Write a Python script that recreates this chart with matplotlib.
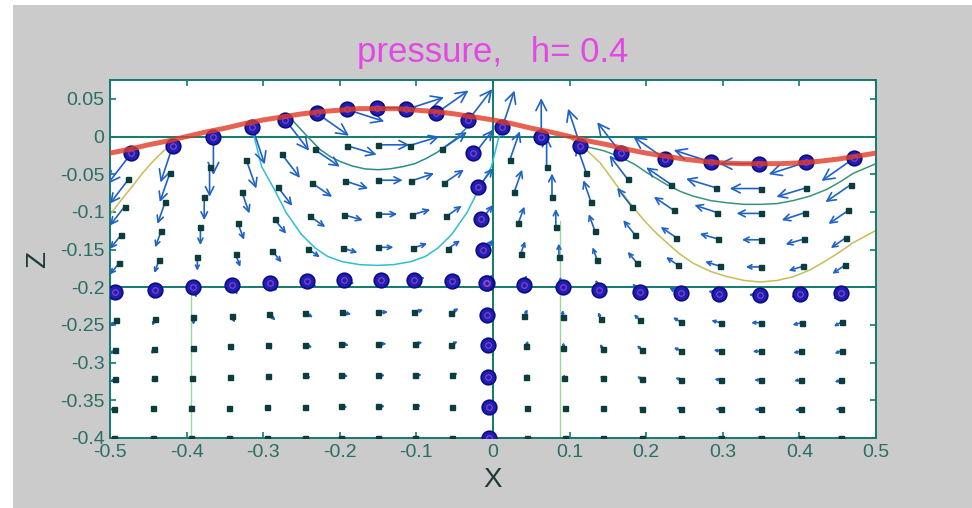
import numpy as np
import matplotlib
matplotlib.use('Agg')
import matplotlib.pyplot as plt
from matplotlib.patches import FancyArrowPatch, Rectangle

# free surface (red line)
surf_line_x = np.arange(-0.5, 0.5001, 0.025)
surf_line_z = [-0.022, -0.017, -0.011, -0.006, 0.0, 0.006, 0.011, 0.017, 0.022, 0.026, 0.030,
               0.033, 0.035, 0.037, 0.037, 0.037, 0.035, 0.033, 0.030, 0.026, 0.022, 0.017,
               0.011, 0.006, 0.0, -0.006, -0.011, -0.017, -0.022, -0.026, -0.030, -0.033,
               -0.035, -0.036, -0.036, -0.036, -0.035, -0.033, -0.030, -0.026, -0.022]

# surface particles (blue circles) and their velocity arrows
surf_x = [-0.472, -0.418, -0.365, -0.314, -0.271, -0.230, -0.191, -0.151, -0.113, -0.074,
          -0.032, 0.012, 0.063, 0.114, 0.167, 0.225, 0.285, 0.347, 0.409, 0.471]
surf_z = [-0.022, -0.012, 0.0, 0.012, 0.022, 0.031, 0.036, 0.038, 0.036, 0.031,
          0.022, 0.012, 0.0, -0.012, -0.022, -0.030, -0.034, -0.036, -0.034, -0.029]
surf_u = [-0.031, -0.016, 0.0, 0.016, 0.031, 0.042, 0.049, 0.052, 0.049, 0.042,
          0.031, 0.016, 0.0, -0.016, -0.031, -0.042, -0.049, -0.052, -0.049, -0.042]
surf_w = [-0.041, -0.049, -0.051, -0.049, -0.041, -0.030, -0.016, 0.0, 0.016, 0.030,
          0.041, 0.049, 0.051, 0.049, 0.041, 0.030, 0.016, 0.0, -0.016, -0.030]

# sub-surface particles (black dots), one row per depth -0.04 ... -0.40
dot_x = [
    [-0.476, -0.422, -0.370, -0.322, -0.276, -0.233, -0.191, -0.150, -0.109, -0.067, -0.024, 0.022, 0.070, 0.122, 0.176, 0.233, 0.291, 0.350, 0.409, 0.467, 0.524],
    [-0.481, -0.428, -0.377, -0.328, -0.281, -0.236, -0.193, -0.150, -0.107, -0.064, -0.019, 0.028, 0.077, 0.128, 0.181, 0.236, 0.293, 0.350, 0.407, 0.464, 0.519],
    [-0.485, -0.433, -0.382, -0.333, -0.285, -0.239, -0.194, -0.150, -0.106, -0.061, -0.015, 0.033, 0.082, 0.133, 0.185, 0.239, 0.294, 0.350, 0.406, 0.461, 0.515],
    [-0.488, -0.436, -0.386, -0.336, -0.288, -0.242, -0.196, -0.150, -0.105, -0.059, -0.012, 0.036, 0.086, 0.136, 0.188, 0.242, 0.296, 0.350, 0.405, 0.459, 0.512],
    [-0.491, -0.439, -0.388, -0.339, -0.291, -0.243, -0.196, -0.150, -0.104, -0.057, -0.009, 0.039, 0.088, 0.139, 0.191, 0.243, 0.296, 0.350, 0.404, 0.457, 0.509],
    [-0.492, -0.441, -0.391, -0.341, -0.292, -0.245, -0.197, -0.150, -0.103, -0.055, -0.008, 0.041, 0.091, 0.141, 0.192, 0.245, 0.297, 0.350, 0.403, 0.455, 0.508],
    [-0.494, -0.443, -0.392, -0.343, -0.294, -0.245, -0.198, -0.150, -0.102, -0.055, -0.006, 0.043, 0.092, 0.143, 0.194, 0.245, 0.298, 0.350, 0.402, 0.455, 0.506],
    [-0.494, -0.443, -0.393, -0.343, -0.294, -0.246, -0.198, -0.150, -0.102, -0.054, -0.006, 0.043, 0.093, 0.143, 0.194, 0.246, 0.298, 0.350, 0.402, 0.454, 0.506],
    [-0.495, -0.444, -0.394, -0.344, -0.295, -0.246, -0.198, -0.150, -0.102, -0.054, -0.005, 0.044, 0.094, 0.144, 0.195, 0.246, 0.298, 0.350, 0.402, 0.454, 0.505],
    [-0.495, -0.444, -0.394, -0.344, -0.295, -0.246, -0.198, -0.150, -0.102, -0.054, -0.005, 0.044, 0.094, 0.144, 0.195, 0.246, 0.298, 0.350, 0.402, 0.454, 0.505],
]
dot_z = [
    [-0.057, -0.049, -0.040, -0.031, -0.023, -0.017, -0.012, -0.011, -0.012, -0.017, -0.023, -0.031, -0.040, -0.049, -0.057, -0.064, -0.068, -0.069, -0.068, -0.064, -0.057],
    [-0.093, -0.087, -0.080, -0.073, -0.067, -0.062, -0.059, -0.058, -0.059, -0.062, -0.067, -0.073, -0.080, -0.087, -0.093, -0.098, -0.101, -0.102, -0.101, -0.098, -0.093],
    [-0.130, -0.125, -0.120, -0.115, -0.110, -0.106, -0.104, -0.103, -0.104, -0.106, -0.110, -0.115, -0.120, -0.125, -0.130, -0.134, -0.136, -0.137, -0.136, -0.134, -0.130],
    [-0.168, -0.164, -0.160, -0.156, -0.152, -0.149, -0.148, -0.147, -0.148, -0.149, -0.152, -0.156, -0.160, -0.164, -0.168, -0.171, -0.172, -0.173, -0.172, -0.171, -0.168],
    [-0.206, -0.203, -0.200, -0.197, -0.194, -0.192, -0.191, -0.190, -0.191, -0.192, -0.194, -0.197, -0.200, -0.203, -0.206, -0.208, -0.209, -0.210, -0.209, -0.208, -0.206],
    [-0.244, -0.242, -0.240, -0.238, -0.236, -0.234, -0.233, -0.233, -0.233, -0.234, -0.236, -0.238, -0.240, -0.242, -0.244, -0.246, -0.247, -0.247, -0.247, -0.246, -0.244],
    [-0.283, -0.282, -0.280, -0.278, -0.277, -0.276, -0.275, -0.275, -0.275, -0.276, -0.277, -0.278, -0.280, -0.282, -0.283, -0.284, -0.285, -0.285, -0.285, -0.284, -0.283],
    [-0.322, -0.321, -0.320, -0.319, -0.318, -0.317, -0.317, -0.317, -0.317, -0.317, -0.318, -0.319, -0.320, -0.321, -0.322, -0.323, -0.323, -0.323, -0.323, -0.323, -0.322],
    [-0.361, -0.360, -0.360, -0.360, -0.359, -0.359, -0.358, -0.358, -0.358, -0.359, -0.359, -0.360, -0.360, -0.360, -0.361, -0.361, -0.362, -0.362, -0.362, -0.361, -0.361],
    [-0.400] * 21,
]
arr_u = [
    [-0.024, -0.013, 0.0, 0.013, 0.024, 0.033, 0.039, 0.041, 0.039, 0.033, 0.024, 0.013, 0.0, -0.013, -0.024, -0.033, -0.039, -0.041, -0.039, -0.033, -0.024],
    [-0.019, -0.010, 0.0, 0.010, 0.019, 0.026, 0.030, 0.032, 0.030, 0.026, 0.019, 0.010, 0.0, -0.010, -0.019, -0.026, -0.030, -0.032, -0.030, -0.026, -0.019],
    [-0.015, -0.008, 0.0, 0.008, 0.015, 0.020, 0.024, 0.025, 0.024, 0.020, 0.015, 0.008, 0.0, -0.008, -0.015, -0.020, -0.024, -0.025, -0.024, -0.020, -0.015],
    [-0.012, -0.006, 0.0, 0.006, 0.012, 0.016, 0.019, 0.020, 0.019, 0.016, 0.012, 0.006, 0.0, -0.006, -0.012, -0.016, -0.019, -0.020, -0.019, -0.016, -0.012],
    [-0.009, -0.005, 0.0, 0.005, 0.009, 0.013, 0.015, 0.016, 0.015, 0.013, 0.009, 0.005, 0.0, -0.005, -0.009, -0.013, -0.015, -0.016, -0.015, -0.013, -0.009],
    [-0.008, -0.004, 0.0, 0.004, 0.008, 0.010, 0.012, 0.013, 0.012, 0.010, 0.008, 0.004, 0.0, -0.004, -0.008, -0.010, -0.012, -0.013, -0.012, -0.010, -0.008],
    [-0.006, -0.003, 0.0, 0.003, 0.006, 0.009, 0.010, 0.011, 0.010, 0.009, 0.006, 0.003, 0.0, -0.003, -0.006, -0.009, -0.010, -0.011, -0.010, -0.009, -0.006],
    [-0.006, -0.003, 0.0, 0.003, 0.006, 0.008, 0.009, 0.009, 0.009, 0.008, 0.006, 0.003, 0.0, -0.003, -0.006, -0.008, -0.009, -0.009, -0.009, -0.008, -0.006],
    [-0.005, -0.003, 0.0, 0.003, 0.005, 0.007, 0.008, 0.009, 0.008, 0.007, 0.005, 0.003, 0.0, -0.003, -0.005, -0.007, -0.008, -0.009, -0.008, -0.007, -0.005],
    [-0.005, -0.003, 0.0, 0.003, 0.005, 0.007, 0.008, 0.008, 0.008, 0.007, 0.005, 0.003, 0.0, -0.003, -0.005, -0.007, -0.008, -0.008, -0.008, -0.007, -0.005],
]
arr_w = [
    [-0.032, -0.038, -0.040, -0.038, -0.032, -0.023, -0.012, 0.0, 0.012, 0.023, 0.032, 0.038, 0.040, 0.038, 0.032, 0.023, 0.012, 0.0, -0.012, -0.023, -0.032],
    [-0.025, -0.029, -0.031, -0.029, -0.025, -0.018, -0.010, 0.0, 0.010, 0.018, 0.025, 0.029, 0.031, 0.029, 0.025, 0.018, 0.010, 0.0, -0.010, -0.018, -0.025],
    [-0.019, -0.022, -0.024, -0.022, -0.019, -0.014, -0.007, 0.0, 0.007, 0.014, 0.019, 0.022, 0.024, 0.022, 0.019, 0.014, 0.007, 0.0, -0.007, -0.014, -0.019],
    [-0.015, -0.017, -0.018, -0.017, -0.015, -0.011, -0.006, 0.0, 0.006, 0.011, 0.015, 0.017, 0.018, 0.017, 0.015, 0.011, 0.006, 0.0, -0.006, -0.011, -0.015],
    [-0.011, -0.013, -0.014, -0.013, -0.011, -0.008, -0.004, 0.0, 0.004, 0.008, 0.011, 0.013, 0.014, 0.013, 0.011, 0.008, 0.004, 0.0, -0.004, -0.008, -0.011],
    [-0.008, -0.009, -0.010, -0.009, -0.008, -0.006, -0.003, 0.0, 0.003, 0.006, 0.008, 0.009, 0.010, 0.009, 0.008, 0.006, 0.003, 0.0, -0.003, -0.006, -0.008],
    [-0.006, -0.007, -0.007, -0.007, -0.006, -0.004, -0.002, 0.0, 0.002, 0.004, 0.006, 0.007, 0.007, 0.007, 0.006, 0.004, 0.002, 0.0, -0.002, -0.004, -0.006],
    [-0.004, -0.004, -0.004, -0.004, -0.004, -0.003, -0.001, 0.0, 0.001, 0.003, 0.004, 0.004, 0.004, 0.004, 0.004, 0.003, 0.001, 0.0, -0.001, -0.003, -0.004],
    [-0.002, -0.002, -0.002, -0.002, -0.002, -0.001, -0.001, 0.0, 0.001, 0.001, 0.002, 0.002, 0.002, 0.002, 0.002, 0.001, 0.001, 0.0, -0.001, -0.001, -0.002],
    [0.0] * 21,
]

# marked particles: the row that started at z=-0.2 and the column that started at x=0
row_x = [-0.493, -0.441, -0.391, -0.341, -0.291, -0.243, -0.194, -0.146, -0.103, -0.053,
         -0.008, 0.041, 0.091, 0.139, 0.192, 0.245, 0.295, 0.349, 0.401, 0.454]
row_z = [-0.206, -0.203, -0.200, -0.197, -0.194, -0.192, -0.191, -0.190, -0.191, -0.192,
         -0.194, -0.197, -0.200, -0.203, -0.206, -0.208, -0.209, -0.210, -0.209, -0.208]
col_x = [-0.026, -0.020, -0.016, -0.013, -0.009, -0.008, -0.006, -0.006, -0.005, -0.005]
col_z = [-0.022, -0.067, -0.110, -0.151, -0.194, -0.237, -0.277, -0.319, -0.359, -0.400]

# thin curves
cyan_x = [-0.315, -0.302, -0.285, -0.270, -0.250, -0.232, -0.216, -0.197, -0.174, -0.152,
          -0.130, -0.107, -0.088, -0.072, -0.054, -0.034, -0.019, -0.002, 0.011]
cyan_z = [0.013, -0.040, -0.071, -0.101, -0.130, -0.148, -0.159, -0.166, -0.170, -0.171,
          -0.170, -0.166, -0.159, -0.148, -0.130, -0.101, -0.071, -0.040, 0.013]
teal_left_x = [-0.265, -0.245, -0.226, -0.212, -0.200, -0.184, -0.167, -0.150, -0.135,
               -0.118, -0.102, -0.087, -0.073, -0.050, -0.033]
teal_left_z = [0.025, 0.003, -0.017, -0.027, -0.033, -0.039, -0.043, -0.044, -0.043,
               -0.040, -0.036, -0.029, -0.021, -0.004, 0.013]
teal_right_x = [0.120, 0.145, 0.166, 0.185, 0.201, 0.227, 0.245, 0.261, 0.284, 0.306, 0.328,
                0.349, 0.371, 0.392, 0.414, 0.436, 0.455, 0.470, 0.500]
teal_right_z = [-0.013, -0.019, -0.027, -0.037, -0.048, -0.064, -0.073, -0.079, -0.085, -0.088,
                -0.090, -0.090, -0.089, -0.085, -0.079, -0.070, -0.059, -0.049, -0.036]
olive_right_x = [0.103, 0.122, 0.140, 0.153, 0.166, 0.181, 0.196, 0.212, 0.227, 0.244, 0.261,
                 0.284, 0.306, 0.328, 0.349, 0.371, 0.392, 0.414, 0.436, 0.453, 0.470, 0.501]
olive_right_z = [-0.004, -0.018, -0.035, -0.053, -0.071, -0.091, -0.110, -0.127, -0.141, -0.156,
                 -0.168, -0.179, -0.186, -0.191, -0.193, -0.191, -0.186, -0.177, -0.164, -0.153,
                 -0.141, -0.124]
olive_left_x = [-0.500, -0.489, -0.478, -0.467, -0.457, -0.444, -0.431, -0.415]
olive_left_z = [-0.104, -0.089, -0.075, -0.061, -0.048, -0.033, -0.020, -0.007]
green_x = [-0.394, 0.088]
green_top = [-0.200, -0.112]

xticks = [-0.5, -0.4, -0.3, -0.2, -0.1, 0.0, 0.1, 0.2, 0.3, 0.4, 0.5]
xticklabels = ['-0.5', '-0.4', '-0.3', '-0.2', '-0.1', '0', '0.1', '0.2', '0.3', '0.4', '0.5']
yticks = [0.05, 0.0, -0.05, -0.1, -0.15, -0.2, -0.25, -0.3, -0.35, -0.4]
yticklabels = ['0.05', '0', '-0.05', '-0.1', '-0.15', '-0.2', '-0.25', '-0.3', '-0.35', '-0.4']

AXCOL = '#127a70'
TXTCOL = '#2a6e64'
ARROW = '#1f62c6'
FONT = 'Liberation Sans'


def draw_arrows(ax, xs, zs, us, ws):
    for x, z, u, w in zip(xs, zs, us, ws):
        length = np.hypot(u * 766, w * 754)
        if length < 1:
            continue
        ax.add_patch(FancyArrowPatch((x, z), (x + u, z + w), arrowstyle='->',
                                     mutation_scale=max(2.0, 0.5 * length), color=ARROW,
                                     lw=1.2, shrinkA=0, shrinkB=0, zorder=3))


fig = plt.figure(figsize=(9.72, 5.08), dpi=100)
fig.patch.set_facecolor('white')
fig.add_artist(Rectangle((13 / 972, 0), 1, 1 - 5 / 508, transform=fig.transFigure,
                         facecolor='#cbcbcb', edgecolor='none', zorder=-10))

ax = fig.add_axes([110 / 972, 1 - 438 / 508, 766 / 972, 358 / 508])
ax.set_facecolor('white')
ax.set_xlim(-0.5, 0.5)
ax.set_ylim(-0.4, 0.075)

# guide lines
ax.axhline(0, color=AXCOL, lw=1.4, zorder=2)
ax.axhline(-0.2, color=AXCOL, lw=1.4, zorder=2)
ax.axvline(0, color=AXCOL, lw=1.4, zorder=2)
for gx, gt in zip(green_x, green_top):
    ax.plot([gx, gx], [-0.4, gt], color='#9ad89a', lw=1.0, zorder=1)

ax.plot(cyan_x, cyan_z, color='#2cc0d2', lw=1.1, zorder=2)
ax.plot(teal_left_x, teal_left_z, color='#2a8c8c', lw=1.1, zorder=2)
ax.plot(teal_right_x, teal_right_z, color='#3a9478', lw=1.1, zorder=2)
ax.plot(olive_right_x, olive_right_z, color='#c8bc5a', lw=1.1, zorder=2)
ax.plot(olive_left_x, olive_left_z, color='#c8bc5a', lw=1.1, zorder=2)

# velocity arrows
for xs, zs, us, ws in zip(dot_x, dot_z, arr_u, arr_w):
    draw_arrows(ax, xs, zs, us, ws)
draw_arrows(ax, surf_x, surf_z, surf_u, surf_w)

for xs, zs in zip(dot_x, dot_z):
    ax.plot(xs, zs, 's', ms=3.6, color='#0d3c3c', zorder=4)

mk = dict(marker='o', ls='none', ms=10.5, mfc='#1e1eb8', mec='#0c0c80', mew=1.2, zorder=5)
ax.plot(surf_x, surf_z, **mk)
ax.plot(row_x, row_z, **mk)
ax.plot(col_x, col_z, **mk)
for xs, zs in [(surf_x, surf_z), (row_x, row_z), (col_x, col_z)]:
    ax.plot(xs, zs, 'o', ms=4, mfc='none', mec='#c054b4', mew=0.8, alpha=0.75, zorder=6)

ax.plot(surf_line_x, surf_line_z, color='#e03c28', lw=3.6, alpha=0.8, zorder=7,
        solid_capstyle='butt')

# axes styling
for sp in ax.spines.values():
    sp.set_color(AXCOL)
    sp.set_linewidth(1.4)
ax.set_xticks(xticks)
ax.set_xticklabels(xticklabels)
ax.set_yticks(yticks)
ax.set_yticklabels(yticklabels)
ax.tick_params(direction='in', length=4, width=1.2, color=AXCOL, labelcolor=TXTCOL,
               top=True, right=True, labelsize=14, pad=4)
for lab in ax.get_xticklabels() + ax.get_yticklabels():
    lab.set_fontfamily(FONT)

ax.set_title('pressure,   h= 0.4', color='#e448e4', fontsize=25, fontfamily=FONT, pad=13)
ax.set_xlabel('X', fontsize=20, fontfamily=FONT, color='#1e3a3a', va='center')
ax.xaxis.set_label_coords(0.5, -0.117)
ax.set_ylabel('Z', fontsize=20, fontfamily=FONT, color='#1e3a3a', va='center', ha='center')
ax.yaxis.set_label_coords(-0.094, 0.5)

fig.savefig('out.png', dpi=100, facecolor=fig.get_facecolor())
